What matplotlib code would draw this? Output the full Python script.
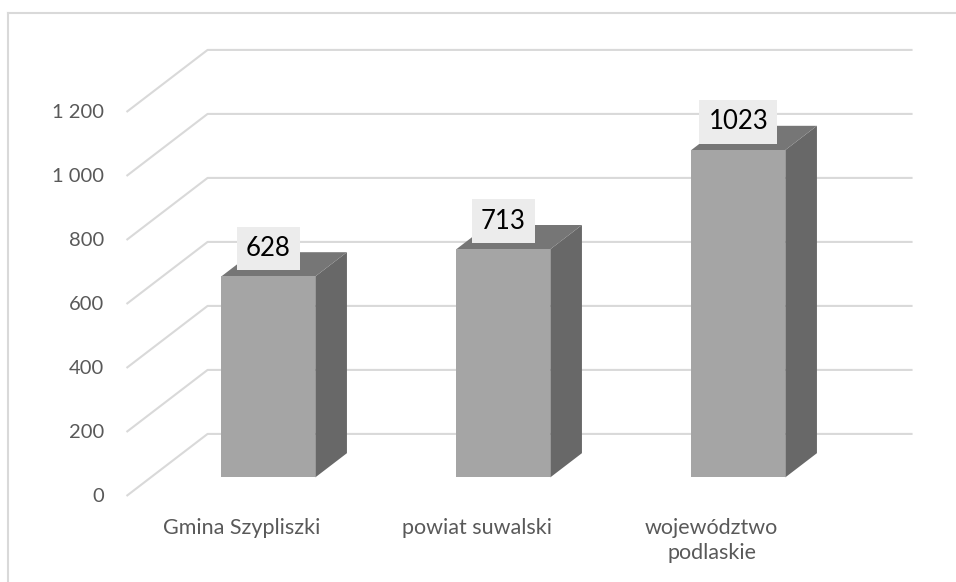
import matplotlib.pyplot as plt
from matplotlib.patches import Polygon

plt.rcParams['font.family'] = ['Lato', 'DejaVu Sans']

categories = ['Gmina Szypliszki', 'powiat suwalski', 'województwo\npodlaskie']
values = [628, 713, 1023]
ticks = [0, 200, 400, 600, 800, 1000, 1200]

# fake 3D: the floor depth is drawn as an oblique shift
DEPTH_X = 0.345      # in category units for full depth
DEPTH_Y = 194        # in value units for full depth
BAR_HALF = 0.2
BAR_D0, BAR_D1 = 0.3, 0.69

FRONT = '#a5a5a5'
SIDE = '#686868'
TOP = '#767676'
GRID = '#d9d9d9'
TEXT = '#595959'


def proj(x, v, d):
    return (x + DEPTH_X * d, v + DEPTH_Y * d)


W, H = 956, 582
fig = plt.figure(figsize=(W / 100, H / 100), dpi=100)
ax = fig.add_axes([0, 0, 1, 1])
# category 0 sits at pixel 244, 235 px per category; value 0 at pixel row 496, 0.32 px per unit
ax.set_xlim(-244 / 235, (W - 244) / 235)
ax.set_ylim((496 - H) / 0.32, 496 / 0.32)
ax.axis('off')

# outer frame (top and left edges only show)
ax.plot([8 / W, 1.0], [1 - 13 / H, 1 - 13 / H], transform=ax.transAxes,
        color='#d9d9d9', lw=1.5)
ax.plot([8 / W, 8 / W], [0, 1 - 13 / H], transform=ax.transAxes,
        color='#d9d9d9', lw=1.5)

x_left, x_right = -0.5, len(categories) - 0.5
for t in ticks:
    p0 = proj(x_left, t, 0)
    p1 = proj(x_left, t, 1)
    p2 = proj(x_right, t, 1)
    ax.plot([p0[0], p1[0], p2[0]], [p0[1], p1[1], p2[1]],
            color=GRID, lw=1.5, zorder=1, solid_capstyle='butt')
    ax.text(x_left - 0.095, t, f'{t:,}'.replace(',', ' '), ha='right', va='center',
            fontsize=14.5, color=TEXT)

for i, (cat, val) in enumerate(zip(categories, values)):
    xl, xr = i - BAR_HALF, i + BAR_HALF
    front = [proj(xl, 0, BAR_D0), proj(xr, 0, BAR_D0),
             proj(xr, val, BAR_D0), proj(xl, val, BAR_D0)]
    side = [proj(xr, 0, BAR_D0), proj(xr, 0, BAR_D1),
            proj(xr, val, BAR_D1), proj(xr, val, BAR_D0)]
    top = [proj(xl, val, BAR_D0), proj(xr, val, BAR_D0),
           proj(xr, val, BAR_D1), proj(xl, val, BAR_D1)]
    ax.add_patch(Polygon(side, closed=True, facecolor=SIDE, edgecolor='none', zorder=3))
    ax.add_patch(Polygon(top, closed=True, facecolor=TOP, edgecolor='none', zorder=3))
    ax.add_patch(Polygon(front, closed=True, facecolor=FRONT, edgecolor='none', zorder=4))

    lx, ly = proj(i, val, BAR_D0)
    ax.text(lx, ly + 88, str(val), ha='center', va='center', fontsize=18.5,
            color='black', zorder=6,
            bbox=dict(boxstyle='square,pad=0.36', facecolor='#ececec',
                      edgecolor='none'))

    ax.text(i - 0.01, -68, cat, ha='center', va='top', fontsize=15.5,
            color=TEXT, linespacing=1.3)

fig.savefig('out.png', dpi=100)
